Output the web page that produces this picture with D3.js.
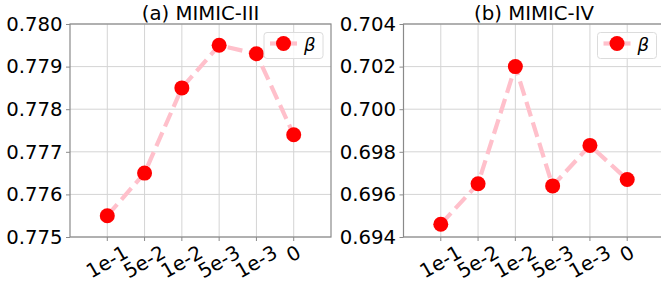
<!DOCTYPE html>
<html>
<head>
<meta charset="utf-8">
<script src="https://cdn.jsdelivr.net/npm/d3@7"></script>
<style>
  body { margin: 0; background: #fff; }
  svg { display: block; font-family: "DejaVu Sans", sans-serif; }
</style>
</head>
<body>
<svg id="chart" width="661" height="282"></svg>
<script>
// hyper-parameter values on the x axis
const betaLabels = ["1e-1", "5e-2", "1e-2", "5e-3", "1e-3", "0"];

// panel (a) MIMIC-III
const mimic3Values = [0.7755, 0.7765, 0.7785, 0.7795, 0.7793, 0.7774];
const mimic3Ticks = [0.775, 0.776, 0.777, 0.778, 0.779, 0.780];

// panel (b) MIMIC-IV
const mimic4Values = [0.6946, 0.6965, 0.7020, 0.6964, 0.6983, 0.6967];
const mimic4Ticks = [0.694, 0.696, 0.698, 0.700, 0.702, 0.704];

const svg = d3.select("#chart");
const fontSize = 19.7;
const plotTop = 24, plotBottom = 237;

function panel(opts) {
    const {left, right, title, values, ticks} = opts;
    const g = svg.append("g");

    const x = d3.scaleLinear()
        .domain([-1, betaLabels.length])
        .range([left, right]);
    const y = d3.scaleLinear()
        .domain([ticks[0], ticks[ticks.length - 1]])
        .range([plotBottom, plotTop]);

    // grid
    g.append("g").selectAll("line")
        .data(betaLabels)
        .enter().append("line")
        .attr("x1", (d, i) => x(i)).attr("x2", (d, i) => x(i))
        .attr("y1", plotTop).attr("y2", plotBottom)
        .attr("stroke", "#d4d4d4").attr("stroke-width", 1);
    g.append("g").selectAll("line")
        .data(ticks)
        .enter().append("line")
        .attr("x1", left).attr("x2", right)
        .attr("y1", d => y(d)).attr("y2", d => y(d))
        .attr("stroke", "#d4d4d4").attr("stroke-width", 1);

    // spines
    g.append("rect")
        .attr("x", left).attr("y", plotTop)
        .attr("width", right - left).attr("height", plotBottom - plotTop)
        .attr("fill", "none").attr("stroke", "#8a8a8a").attr("stroke-width", 1.2);

    // y axis
    const yAxis = d3.axisLeft(y)
        .tickValues(ticks)
        .tickFormat(d3.format(".3f"))
        .tickSize(4).tickPadding(3.5);
    const ya = g.append("g").attr("transform", `translate(${left},0)`).call(yAxis);
    ya.select(".domain").remove();
    ya.selectAll("line").attr("stroke", "#8a8a8a");
    ya.selectAll("text")
        .attr("font-size", fontSize)
        .attr("fill", "#000")
        .attr("font-family", "DejaVu Sans");

    // x axis, rotated labels centred under ticks
    const xt = g.append("g");
    xt.selectAll("line")
        .data(betaLabels)
        .enter().append("line")
        .attr("x1", (d, i) => x(i)).attr("x2", (d, i) => x(i))
        .attr("y1", plotBottom).attr("y2", plotBottom + 4)
        .attr("stroke", "#8a8a8a");
    xt.selectAll("text")
        .data(betaLabels)
        .enter().append("text")
        .text(d => d)
        .attr("font-size", fontSize)
        .attr("text-anchor", "middle")
        .attr("dominant-baseline", "central")
        .attr("transform", function (d, i) {
            const w = this.getComputedTextLength();
            const h = w * 0.5 + fontSize * 1.16 * 0.866;
            return `translate(${x(i)},${plotBottom + 4 + h / 2}) rotate(-30)`;
        });

    // title
    g.append("text")
        .attr("x", (left + right) / 2)
        .attr("y", 20)
        .attr("text-anchor", "middle")
        .attr("font-size", fontSize)
        .text(title);

    // line + markers
    const line = d3.line()
        .x((d, i) => x(i))
        .y(d => y(d));
    g.append("path")
        .datum(values)
        .attr("d", line)
        .attr("fill", "none")
        .attr("stroke", "#ffc0cb")
        .attr("stroke-width", 4.2)
        .attr("stroke-dasharray", "15,6.5");
    g.append("g").selectAll("circle")
        .data(values)
        .enter().append("circle")
        .attr("cx", (d, i) => x(i))
        .attr("cy", d => y(d))
        .attr("r", 7.5)
        .attr("fill", "#ff0000");

    // legend
    const lg = g.append("g").attr("transform", `translate(${right - 67},32.5)`);
    lg.append("rect")
        .attr("width", 59).attr("height", 26).attr("rx", 3)
        .attr("fill", "#fff").attr("fill-opacity", 0.8)
        .attr("stroke", "#dcdcdc");
    lg.append("line")
        .attr("x1", 6).attr("x2", 33).attr("y1", 11).attr("y2", 11)
        .attr("stroke", "#ffc0cb").attr("stroke-width", 4.2);
    lg.append("circle")
        .attr("cx", 19.5).attr("cy", 11).attr("r", 7.5)
        .attr("fill", "#ff0000");
    lg.append("text")
        .attr("x", 40).attr("y", 18)
        .attr("font-size", fontSize * 0.92)
        .attr("font-style", "italic")
        .text("β");
}

panel({left: 70, right: 331, title: "(a) MIMIC-III", values: mimic3Values, ticks: mimic3Ticks});
panel({left: 403.5, right: 664.5, title: "(b) MIMIC-IV", values: mimic4Values, ticks: mimic4Ticks});
</script>
</body>
</html>
